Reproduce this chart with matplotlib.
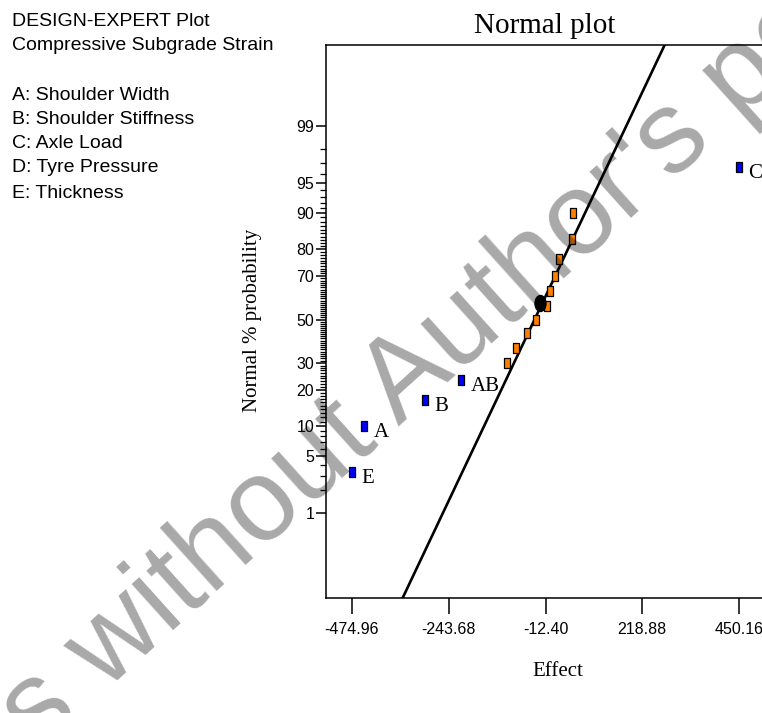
from statistics import NormalDist

import matplotlib
matplotlib.use("Agg")
import matplotlib.pyplot as plt
import numpy as np
from matplotlib.path import Path
from matplotlib.transforms import Affine2D

# effects picked out in the plot (blue) and the rest (orange)
named_labels = ["E", "A", "B", "AB", "C"]
named_effects = [-474.96, -446.3, -300.0, -214.7, 450.16]
named_probs = [3.33, 10.0, 16.67, 23.33, 96.67]

other_effects = [-105.5, -83.4, -55.5, -34.0, -8.7, -2.2, 9.8, 19.3, 52.0, 53.5]
other_probs = [30.0, 36.67, 43.33, 50.0, 56.67, 63.33, 70.0, 76.67, 83.33, 90.0]

# black marker near the middle of the line
centre_effect = [-26.0]
centre_prob = [57.7]

# fitted normal line: effect = mean + sd * z
line_mean = -38.5
line_sd = 94.2

x_ticks = [-474.96, -243.68, -12.40, 218.88, 450.16]
y_ticks = [1, 5, 10, 20, 30, 50, 70, 80, 90, 95, 99]

side_text = ["DESIGN-EXPERT Plot", "Compressive Subgrade Strain", "",
             "A: Shoulder Width", "B: Shoulder Stiffness", "C: Axle Load",
             "D: Tyre Pressure", "E: Thickness"]

nd = NormalDist()
def probit(p):
    return np.array([nd.inv_cdf(v / 100.0) for v in p])

W, H = 762, 713
fig = plt.figure(figsize=(W / 100, H / 100), dpi=100)
ax = fig.add_axes([326 / W, (H - 598) / H, (765 - 326) / W, (598 - 45) / H])

sans = "Liberation Sans"
serif = "Liberation Serif"

# tall rectangle and ellipse markers
rect = Path([(-0.35, -0.5), (0.35, -0.5), (0.35, 0.5), (-0.35, 0.5), (-0.35, -0.5)],
            [Path.MOVETO, Path.LINETO, Path.LINETO, Path.LINETO, Path.CLOSEPOLY])
oval = Path.unit_circle().transformed(Affine2D().scale(0.69, 1.0))

z_lo, z_hi = -3.348, 3.300
zz = np.array([z_lo, z_hi])
ax.plot(line_mean + line_sd * zz, zz, color="black", lw=1.9, zorder=2)

ax.plot(other_effects, probit(other_probs), ls="none", marker=rect, ms=7.0,
        mfc="#ff8000", mec="black", mew=0.9, zorder=3)
ax.plot(centre_effect, probit(centre_prob), ls="none", marker=oval, ms=11.5,
        mfc="black", mec="black", zorder=3)
ax.plot(named_effects, probit(named_probs), ls="none", marker=rect, ms=7.0,
        mfc="#0000ff", mec="black", mew=0.9, zorder=3)
for lab, x, z in zip(named_labels, named_effects, probit(named_probs)):
    ax.annotate(lab, (x, z), xytext=(6.8, -4.5), textcoords="offset points",
                ha="left", va="center", fontsize=15, family=serif)

ax.set_xlim(-537.05, 512.25)
ax.set_ylim(z_lo, z_hi)
ax.set_xticks(x_ticks)
ax.set_xticklabels([f"{v:.2f}" for v in x_ticks], family=sans, fontsize=11.5)
ax.set_yticks(probit(y_ticks))
ax.set_yticklabels([str(v) for v in y_ticks], family=sans, fontsize=11.5)
minor = [v for v in range(1, 100) if v not in y_ticks]
ax.set_yticks(probit(minor), minor=True)
ax.tick_params(axis="x", direction="out", length=11.5, width=1.1, pad=6, top=False)
ax.tick_params(axis="y", which="major", direction="out", length=7.5, width=1.1, pad=1)
ax.tick_params(axis="y", which="minor", direction="out", length=4, width=0.9)
ax.tick_params(axis="x", which="minor", bottom=False)
for s in ax.spines.values():
    s.set_linewidth(1.1)

fig.text(545 / W, 1 - 33 / H, "Normal plot", ha="center", va="baseline",
         fontsize=21, family=serif)
fig.text(252 / W, 1 - 320 / H, "Normal % probability", rotation=90,
         ha="center", va="center", fontsize=15, family=serif)
fig.text(558 / W, 1 - 672 / H, "Effect", ha="center", va="center",
         fontsize=15, family=serif)

line_y = [21, 46, 70, 95, 119, 144, 168, 193]
for txt, yy in zip(side_text, line_y):
    fig.text(12 / W, 1 - yy / H, txt, ha="left", va="center", fontsize=14, family=sans)

# watermark over the whole figure
fig.text(38 / W, 1 - 752 / H, "s without Author's permission", rotation=42,
         rotation_mode="anchor", ha="left", va="baseline", fontsize=84,
         family=sans, color="black", alpha=0.34, zorder=10)

fig.savefig("out.png", dpi=100)
